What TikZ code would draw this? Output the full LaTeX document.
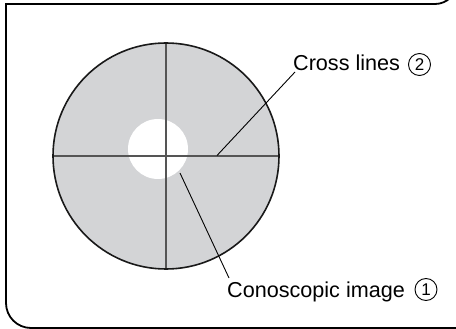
\documentclass[tikz,border=0pt]{standalone}
\usepackage{fontspec}
\setmainfont{Liberation Sans}
\usetikzlibrary{calc}
\definecolor{discgray}{HTML}{D3D4D6}
\definecolor{crossgray}{HTML}{555555}
\tikzset{
  frameline/.style={line width=1.8pt, black},
  discshape/.style={circle, minimum size=226pt, inner sep=0pt, fill=discgray},
  holeshape/.style={circle, minimum size=60pt, inner sep=0pt, fill=white},
  crossline/.style={line width=1.2pt, crossgray},
  leader/.style={line width=0.9pt, black},
  lbltext/.style={inner sep=0pt, anchor=base west, font=\fontsize{21.6}{25}\selectfont},
  circnum/.style={circle, draw, line width=0.9pt, inner sep=0pt, minimum size=22pt, font=\fontsize{17}{17}\selectfont}
}
\begin{document}
\begin{tikzpicture}[x=1pt, y=-1pt]
\useasboundingbox (0,0) rectangle (456,329);
% frame
\draw[frameline] (470,328) -- (31,328) arc[start angle=90, end angle=180, radius=25] -- (6,4) -- (435,4) arc[start angle=90, end angle=0, radius=22] -- (457,340);
% disc
\node[discshape] (disc) at (166,156) {};
\node[holeshape] (hole) at (158,149) {};
\draw[crossline] (disc.west) -- (disc.east);
\draw[crossline] (disc.north) -- (disc.south);
\draw[line width=1.6pt, black!90] (disc.center) circle[radius=113];
% labels
\node[lbltext] (cl) at (293,71) {Cross lines};
\node[circnum] (cln) at (419.5,64.5) {2};
\node[lbltext] (ci) at (227,297) {Conoscopic image};
\node[circnum] (cin) at (426,289.5) {1};
% leaders
\coordinate (p1) at (217,155.5);
\coordinate (p2) at (180,173);
\draw[leader] (p1) -- ($(cl.base west)+(2,1)$);
\draw[leader] (p2) -- ($(ci.base west)+(2,-19)$);
\end{tikzpicture}
\end{document}
